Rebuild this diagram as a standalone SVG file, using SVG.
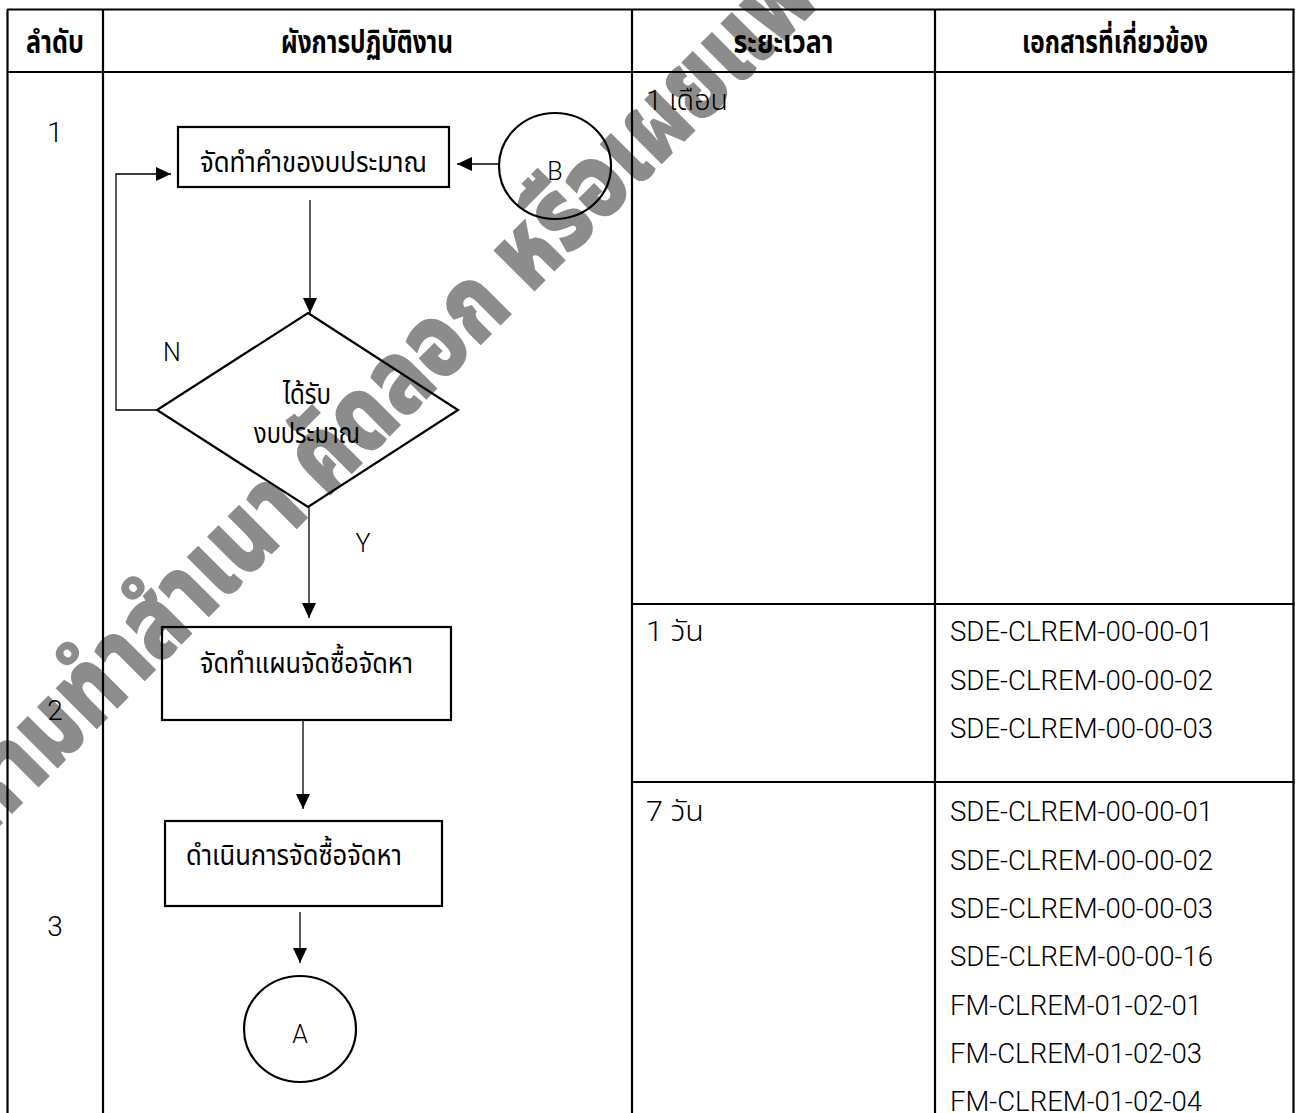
<svg xmlns="http://www.w3.org/2000/svg" width="1298" height="1113" viewBox="0 0 1298 1113">
<style>
.tbl{stroke:#000;stroke-width:2.2;fill:none}
.box{stroke:#000;stroke-width:2.2;fill:none}
.con{stroke:#000;stroke-width:1.3;fill:none}
.th{font-family:"Noto Sans Thai","Leelawadee UI",Tahoma,"Noto Sans",sans-serif;font-size:29px;fill:#000}
.hd{font-family:"Noto Sans Thai","Leelawadee UI",Tahoma,"Noto Sans",sans-serif;font-size:31px;font-weight:bold;fill:#000}
.lt{font-family:Roboto,"Noto Sans Thai","Noto Sans",sans-serif;font-size:28px;font-weight:300;fill:#000}
.lbl{font-family:Roboto,"Noto Sans",sans-serif;font-size:25px;font-weight:300;fill:#000}
.wm{font-family:"Noto Sans Thai","Leelawadee UI",Tahoma,"Noto Sans",sans-serif;font-size:106px;font-weight:900;fill:#8c8c8c}
</style>
<defs>
<marker id="arr" markerUnits="userSpaceOnUse" markerWidth="16" markerHeight="16" refX="15" refY="7" orient="auto">
<path d="M0,0 L15,7 L0,14 Z" fill="#000"/>
</marker>
</defs>
<rect x="0" y="0" width="1298" height="1113" fill="#fff"/>
<g id="watermark">
<text class="wm" transform="translate(-12,838) rotate(-45)" x="0" y="0" textLength="1225" lengthAdjust="spacingAndGlyphs">ห้ามทำสำเนา คัดลอก หรือเผยแพร่</text>
</g>
<g id="table">
<line class="tbl" x1="7" y1="9.5" x2="1294.5" y2="9.5"/>
<line class="tbl" x1="7" y1="72" x2="1294.5" y2="72"/>
<line class="tbl" x1="7.5" y1="9.5" x2="7.5" y2="1113"/>
<line class="tbl" x1="103" y1="9.5" x2="103" y2="1113"/>
<line class="tbl" x1="632" y1="9.5" x2="632" y2="1113"/>
<line class="tbl" x1="935" y1="9.5" x2="935" y2="1113"/>
<line class="tbl" x1="1293.5" y1="9.5" x2="1293.5" y2="1113"/>
<line class="tbl" x1="632" y1="604" x2="1294.5" y2="604"/>
<line class="tbl" x1="632" y1="782" x2="1294.5" y2="782"/>
<text class="hd" x="55" y="53" text-anchor="middle" textLength="58" lengthAdjust="spacingAndGlyphs">ลำดับ</text>
<text class="hd" x="367" y="53" text-anchor="middle" textLength="172" lengthAdjust="spacingAndGlyphs">ผังการปฏิบัติงาน</text>
<text class="hd" x="783.5" y="53" text-anchor="middle" textLength="100" lengthAdjust="spacingAndGlyphs">ระยะเวลา</text>
<text class="hd" x="1115" y="53" text-anchor="middle" textLength="186" lengthAdjust="spacingAndGlyphs">เอกสารที่เกี่ยวข้อง</text>
<text class="lt" x="55" y="142" text-anchor="middle">1</text>
<text class="lt" x="55" y="720" text-anchor="middle">2</text>
<text class="lt" x="55" y="936" text-anchor="middle">3</text>
<text class="lt" x="646" y="110" textLength="82" lengthAdjust="spacingAndGlyphs">1 เดือน</text>
<text class="lt" x="646" y="641" textLength="58" lengthAdjust="spacingAndGlyphs">1 วัน</text>
<text class="lt" x="646" y="821" textLength="58" lengthAdjust="spacingAndGlyphs">7 วัน</text>
<text class="lt" x="950" y="641" textLength="263" lengthAdjust="spacingAndGlyphs">SDE-CLREM-00-00-01</text>
<text class="lt" x="950" y="690" textLength="263" lengthAdjust="spacingAndGlyphs">SDE-CLREM-00-00-02</text>
<text class="lt" x="950" y="738" textLength="263" lengthAdjust="spacingAndGlyphs">SDE-CLREM-00-00-03</text>
<text class="lt" x="950" y="821" textLength="263" lengthAdjust="spacingAndGlyphs">SDE-CLREM-00-00-01</text>
<text class="lt" x="950" y="870" textLength="263" lengthAdjust="spacingAndGlyphs">SDE-CLREM-00-00-02</text>
<text class="lt" x="950" y="918" textLength="263" lengthAdjust="spacingAndGlyphs">SDE-CLREM-00-00-03</text>
<text class="lt" x="950" y="966" textLength="263" lengthAdjust="spacingAndGlyphs">SDE-CLREM-00-00-16</text>
<text class="lt" x="950" y="1015" textLength="252" lengthAdjust="spacingAndGlyphs">FM-CLREM-01-02-01</text>
<text class="lt" x="950" y="1063" textLength="252" lengthAdjust="spacingAndGlyphs">FM-CLREM-01-02-03</text>
<text class="lt" x="950" y="1111" textLength="252" lengthAdjust="spacingAndGlyphs">FM-CLREM-01-02-04</text>
</g>
<g id="connectors">
<path class="con" d="M157,410 H116 V174 H171" marker-end="url(#arr)"/>
<path class="con" d="M499,164 H457" marker-end="url(#arr)"/>
<path class="con" d="M310,200 V313" marker-end="url(#arr)"/>
<path class="con" d="M309,507 V618" marker-end="url(#arr)"/>
<path class="con" d="M303,720 V809" marker-end="url(#arr)"/>
<path class="con" d="M300,912 V963" marker-end="url(#arr)"/>
<text class="lbl" x="172" y="361" text-anchor="middle">N</text>
<text class="lbl" x="363" y="552" text-anchor="middle">Y</text>
</g>
<g id="node-request">
<rect class="box" x="178" y="127" width="271" height="60"/>
<text class="th" x="200" y="172" textLength="227" lengthAdjust="spacingAndGlyphs">จัดทำคำของบประมาณ</text>
</g>
<g id="node-b">
<ellipse class="box" cx="555" cy="166" rx="56" ry="53"/>
<text class="lbl" x="555" y="180" text-anchor="middle">B</text>
</g>
<g id="node-decision">
<polygon class="box" points="308,313 458,410 308,507 157,410"/>
<text class="th" x="307" y="404" text-anchor="middle" textLength="48" lengthAdjust="spacingAndGlyphs">ได้รับ</text>
<text class="th" x="307" y="443" text-anchor="middle" textLength="106" lengthAdjust="spacingAndGlyphs">งบประมาณ</text>
</g>
<g id="node-plan">
<rect class="box" x="162" y="627" width="289" height="93"/>
<text class="th" x="200" y="673" textLength="213" lengthAdjust="spacingAndGlyphs">จัดทำแผนจัดซื้อจัดหา</text>
</g>
<g id="node-procure">
<rect class="box" x="165" y="821" width="277" height="85"/>
<text class="th" x="186" y="865" textLength="216" lengthAdjust="spacingAndGlyphs">ดำเนินการจัดซื้อจัดหา</text>
</g>
<g id="node-a">
<ellipse class="box" cx="300" cy="1029" rx="56" ry="53"/>
<text class="lbl" x="300" y="1043" text-anchor="middle">A</text>
</g>
</svg>
